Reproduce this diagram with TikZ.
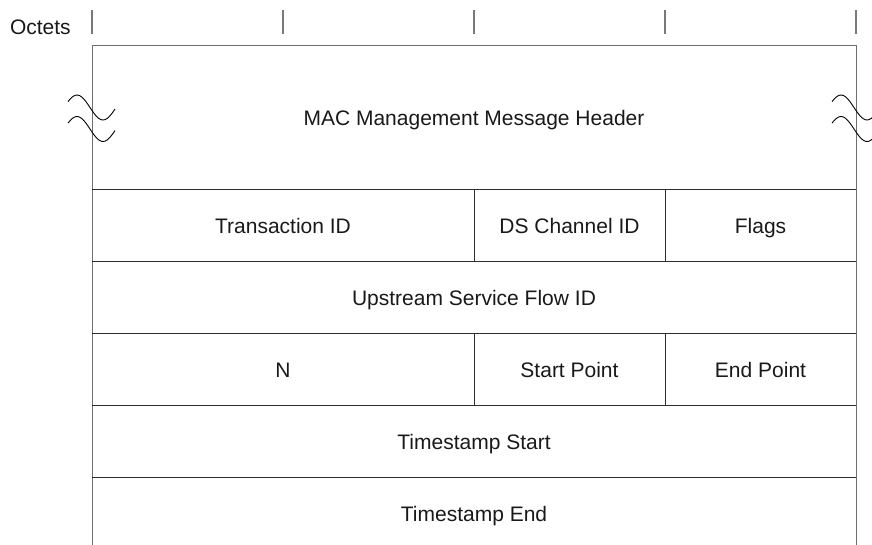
\documentclass[tikz,border=0pt]{standalone}
\usepackage{fontspec}
\setmainfont{Liberation Sans}
\usepackage{tikz}
\usetikzlibrary{positioning}
\definecolor{frmgray}{RGB}{110,110,110}
\definecolor{sepgray}{RGB}{45,45,45}
\definecolor{tickgray}{RGB}{120,120,120}

\begin{document}
\begin{tikzpicture}[x=1pt, y=-1pt,
  cell/.style={rectangle, inner sep=0pt, outer sep=0pt, minimum height=72pt, text height=15pt, text depth=0pt, font=\fontsize{21pt}{25pt}\selectfont, text=black!90},
  full/.style={cell, minimum width=764pt},
  half/.style={cell, minimum width=382pt},
  quart/.style={cell, minimum width=191pt},
  frm/.style={draw=frmgray, line width=1pt},
  sep/.style={draw=sepgray, line width=1.8pt},
  div/.style={draw=sepgray, line width=1pt},
  tick/.style={draw=tickgray, line width=1.3pt},
  wave/.style={draw=black, line width=0.9pt}
]
\useasboundingbox (0,0) rectangle (872,544);
\clip (0,0) rectangle (872,544);
\node[cell, minimum height=0pt, anchor=base west] (oct) at (10,34) {Octets};
\foreach \i in {0,...,4}
  \draw[tick] ({92+191*\i},10) -- ({92+191*\i},34);
\node[full, minimum height=144pt, anchor=north west] (hdr) at (92,45.5) {MAC Management Message Header};
\node[half, below right=0pt and 0pt of hdr.south west] (tid) {Transaction ID};
\node[quart, right=0pt of tid] (dsid) {DS Channel ID};
\node[quart, right=0pt of dsid] (flags) {Flags};
\node[full, below right=0pt and 0pt of tid.south west] (usfid) {Upstream Service Flow ID};
\node[half, below right=0pt and 0pt of usfid.south west] (nn) {N};
\node[quart, right=0pt of nn] (spt) {Start Point};
\node[quart, right=0pt of spt] (ept) {End Point};
\node[full, below right=0pt and 0pt of nn.south west] (tss) {Timestamp Start};
\node[full, below right=0pt and 0pt of tss.south west] (tse) {Timestamp End};
\draw[frm] (tse.south west) -- (hdr.north west) -- (hdr.north east) -- (tse.south east);
\draw[sep] (hdr.south west) -- (hdr.south east);
\draw[sep] (tid.south west) -- (flags.south east);
\draw[sep] (usfid.south west) -- (usfid.south east);
\draw[sep] (nn.south west) -- (ept.south east);
\draw[sep] (tss.south west) -- (tss.south east);
\draw[div] (tid.north east) -- (tid.south east);
\draw[div] (dsid.north east) -- (dsid.south east);
\draw[div] (nn.north east) -- (nn.south east);
\draw[div] (spt.north east) -- (spt.south east);
\foreach \wx in {92,856}
  \foreach \wy in {0,21.5}
    \draw[wave] plot[smooth, domain=-24:23, samples=25] ({\wx+\x},{107.5+\wy-12.5*cos(180*(\x+15)/26)});
\end{tikzpicture}
\end{document}
